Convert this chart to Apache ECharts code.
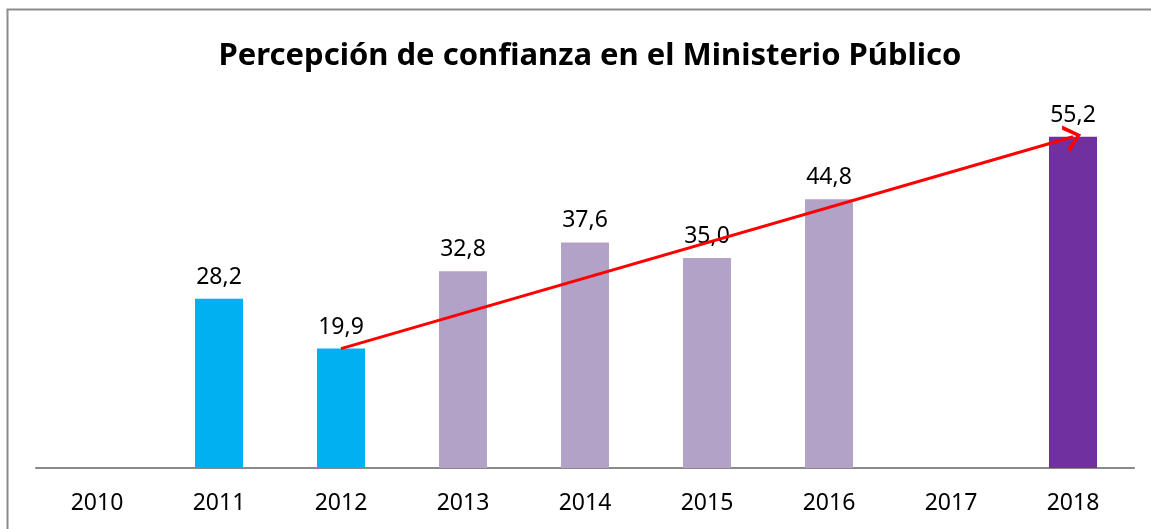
<!DOCTYPE html>
<html>
<head>
<meta charset="utf-8">
<script src="https://cdn.jsdelivr.net/npm/echarts@6/dist/echarts.min.js"></script>
<style>
  * { margin: 0; padding: 0; }
  body { background: #fff; }
</style>
</head>
<body>
<!-- contenedor del grafico -->
<div id="main" style="width: 1151px;height: 529px;"></div>
<script>
  var years = ['2010', '2011', '2012', '2013', '2014', '2015', '2016', '2017', '2018'];
  var confianza = [null, 28.2, 19.9, 32.8, 37.6, 35.0, 44.8, null, 55.2];
  var colores = ['#00B0F0', '#00B0F0', '#00B0F0', '#B3A2C7', '#B3A2C7', '#B3A2C7', '#B3A2C7', '#7030A0', '#7030A0'];
  // tendencia: de 2012 a 2018
  var tendencia = [['2012', 19.9], ['2018', 55.2]];

  var mycharts = echarts.init(document.getElementById('main'));
  var fuente = '"Noto Sans", sans-serif';

  var option = {
    animation: false,
    title: {
      text: 'Percepción de confianza en el Ministerio Público',
      left: 585,
      top: 36,
      textAlign: 'center',
      textStyle: {
        fontFamily: fuente,
        fontWeight: 'bold',
        fontSize: 31,
        color: '#000'
      }
    },
    graphic: [{
      type: 'rect',
      shape: { x: 7.5, y: 9.5, width: 1160, height: 540 },
      style: { fill: 'none', stroke: '#8c8c8c', lineWidth: 2 },
      silent: true
    }],
    grid: {
      left: 36,
      right: 17,
      top: 108,
      bottom: 61
    },
    xAxis: {
      type: 'category',
      data: years,
      axisTick: { show: false },
      axisLine: { lineStyle: { color: '#898989', width: 2 } },
      axisLabel: {
        color: '#000',
        fontSize: 23,
        fontFamily: fuente,
        margin: 24
      }
    },
    yAxis: {
      type: 'value',
      min: 0,
      max: 60,
      show: false,
      splitLine: { show: false }
    },
    series: [{
      type: 'bar',
      barWidth: 48,
      data: confianza.map(function (v, i) {
        return { value: v, itemStyle: { color: colores[i] } };
      }),
      label: {
        show: true,
        position: 'top',
        distance: 10,
        color: '#000',
        fontSize: 23,
        fontFamily: fuente,
        formatter: function (p) {
          return p.value == null ? '' : p.value.toFixed(1).replace('.', ',');
        }
      },
      markLine: {
        silent: true,
        symbol: ['none', 'path://M0,12 L6,0 L12,12 L10.2,12.9 L6,4 L1.8,12.9 Z'],
        symbolSize: [28, 17],
        label: { show: false },
        lineStyle: { color: '#FF0000', width: 3, type: 'solid' },
        data: [[
          { coord: tendencia[0] },
          { coord: tendencia[1] }
        ]]
      }
    }]
  };
  mycharts.clear();
  mycharts.setOption(option);
</script>
</body>
</html>
